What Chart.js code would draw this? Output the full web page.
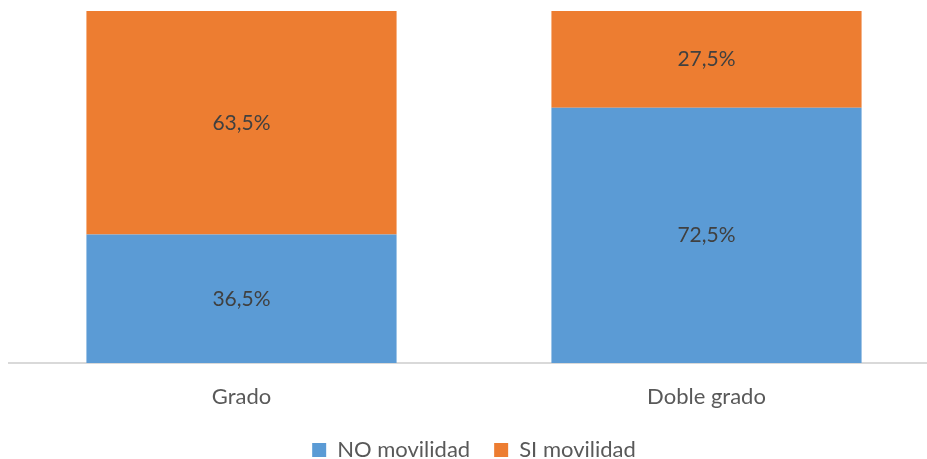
<!DOCTYPE html>
<html><head><meta charset="utf-8">
<script src="https://cdn.jsdelivr.net/npm/chart.js@4/dist/chart.umd.min.js"></script>
<style>
html,body{margin:0;padding:0;overflow:hidden;background:#fff;width:927px;height:459px;}
#wrap{width:940px;height:459px;position:relative;}
</style></head>
<body><div id="wrap"><canvas id="c"></canvas></div>
<script>
const categories = ["Grado", "Doble grado"];
const noMovilidad = [36.5, 72.5];
const siMovilidad = [63.5, 27.5];
const seriesNames = ["NO movilidad", "SI movilidad"];

const fontFam = "Lato, 'Open Sans', sans-serif";
const labelPlugin = {
  id: 'barLabels',
  afterDatasetsDraw(chart) {
    const ctx = chart.ctx;
    ctx.save();
    ctx.font = "21px " + fontFam;
    ctx.fillStyle = "#404040";
    ctx.textAlign = "center";
    ctx.textBaseline = "middle";
    chart.data.datasets.forEach((ds, di) => {
      const meta = chart.getDatasetMeta(di);
      meta.data.forEach((el, i) => {
        const p = el.getCenterPoint();
        ctx.fillText(ds.data[i].toFixed(1).replace('.', ',') + "%", p.x, p.y);
      });
    });
    ctx.restore();
  }
};

new Chart(document.getElementById('c'), {
  type: 'bar',
  data: {
    labels: categories,
    datasets: [
      {label: seriesNames[0], data: noMovilidad, backgroundColor: '#5B9BD5'},
      {label: seriesNames[1], data: siMovilidad, backgroundColor: '#ED7D31'}
    ]
  },
  options: {
    responsive: true, maintainAspectRatio: false, animation: false,
    layout: {padding: {left: 9, right: 1, top: 11, bottom: -12}},
    plugins: {
      legend: {position: 'bottom', labels: {boxWidth: 14, boxHeight: 14, color: '#595959', font: {size: 22, family: fontFam}, padding: 24}},
      tooltip: {enabled: false}
    },
    datasets: {bar: {categoryPercentage: 1, barPercentage: 0.667}},
    scales: {
      x: {stacked: true, grid: {display: false, drawTicks: false}, border: {color: '#d9d9d9', width: 2},
          ticks: {color: '#595959', font: {size: 22, family: fontFam}, padding: 21},
          afterFit: (scale) => { scale.height = 52; }},
      y: {stacked: true, display: false, min: 0, max: 100}
    }
  },
  plugins: [labelPlugin]
});
</script></body></html>
